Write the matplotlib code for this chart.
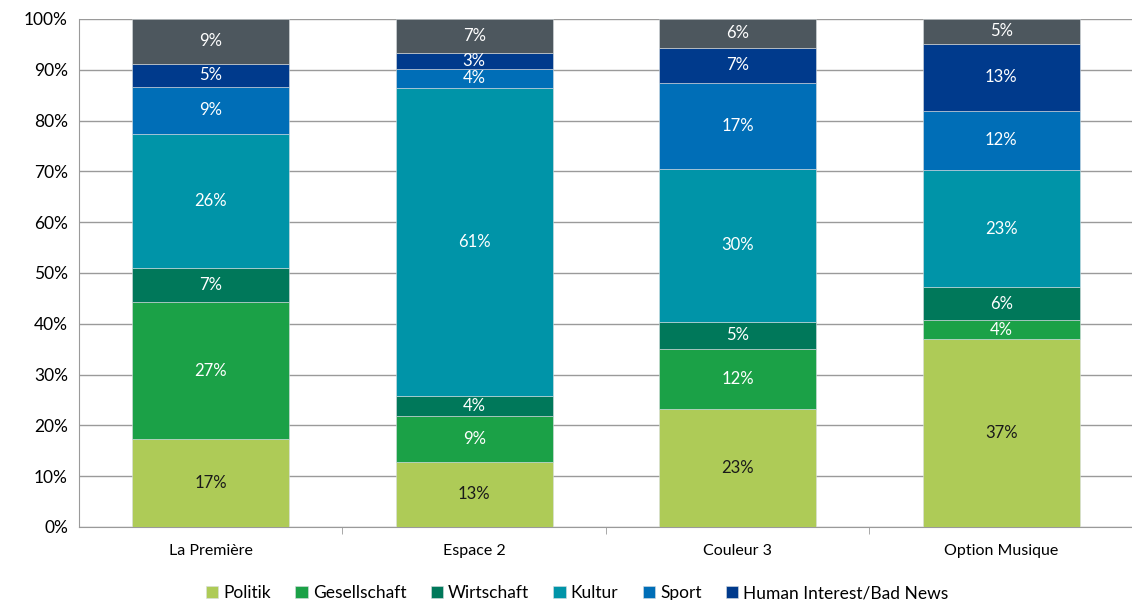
import numpy as np
import matplotlib
matplotlib.use('Agg')
import matplotlib.pyplot as plt
from matplotlib.ticker import FuncFormatter

plt.rcParams['font.family'] = ['Lato', 'DejaVu Sans']

sender = ['La Première', 'Espace 2', 'Couleur 3', 'Option Musique']
themen = ['Politik', 'Gesellschaft', 'Wirtschaft', 'Kultur', 'Sport',
          'Human Interest/Bad News', 'Andere']

# segment shares in %
politik      = [17.3, 12.8, 23.2, 37.0]
gesellschaft = [27.0,  9.1, 11.8,  3.7]
wirtschaft   = [ 6.7,  3.9,  5.4,  6.5]
kultur       = [26.4, 60.6, 30.1, 23.1]
sport        = [ 9.2,  3.8, 16.9, 11.6]
human        = [ 4.6,  3.1,  6.9, 13.2]
andere       = [ 8.8,  6.7,  5.7,  4.9]

farben = ['#AECB57', '#1BA147', '#00785A', '#0094A8', '#006EB7', '#003A8C', '#4D575E']
textfarben = ['#1a1a1a', 'white', 'white', 'white', 'white', 'white', 'white']

serien = [politik, gesellschaft, wirtschaft, kultur, sport, human, andere]

fig = plt.figure(figsize=(11.32, 6), dpi=100)
ax = fig.add_axes([0.0698, 0.1217, 0.931, 0.8467])

x = np.arange(len(sender))
unten = np.zeros(len(sender))
for i, werte in enumerate(serien):
    werte = np.array(werte)
    lab = themen[i] if i < 6 else '_nolegend_'
    ax.bar(x, werte, 0.595, bottom=unten, color=farben[i], label=lab,
           edgecolor='#d8dde0', linewidth=0.4, zorder=3)
    for j in range(len(sender)):
        ax.text(x[j], unten[j] + werte[j] / 2.0, '%d%%' % round(werte[j]),
                ha='center', va='center', color=textfarben[i], fontsize=12, zorder=4)
    unten = unten + werte

ax.set_xlim(-0.5, 3.5)
ax.set_ylim(0, 100)
ax.set_yticks(np.arange(0, 101, 10))
ax.yaxis.set_major_formatter(FuncFormatter(lambda v, p: '%d%%' % v))
ax.yaxis.grid(True, color='#9a9a9a', linewidth=1.0, zorder=0)
ax.tick_params(axis='y', length=0, labelsize=12.5, pad=8)

ax.set_xticks(x)
ax.set_xticklabels(sender, fontsize=11.5)
ax.set_xticks(np.arange(0.5, 3.5, 1.0), minor=True)
ax.tick_params(axis='x', which='major', length=0, pad=12)
ax.tick_params(axis='x', which='minor', length=5, color='#9a9a9a', direction='out')

ax.spines['top'].set_visible(False)
ax.spines['right'].set_visible(False)
ax.spines['left'].set_color('#9a9a9a')
ax.spines['bottom'].set_color('#9a9a9a')

fig.legend(loc='lower center', bbox_to_anchor=(0.51, -0.022), ncol=6, frameon=False,
           fontsize=12.5, handlelength=0.7, handleheight=0.7, handletextpad=0.3,
           columnspacing=1.4, borderpad=0.2)

plt.savefig('out.png', dpi=100)
plt.close()
